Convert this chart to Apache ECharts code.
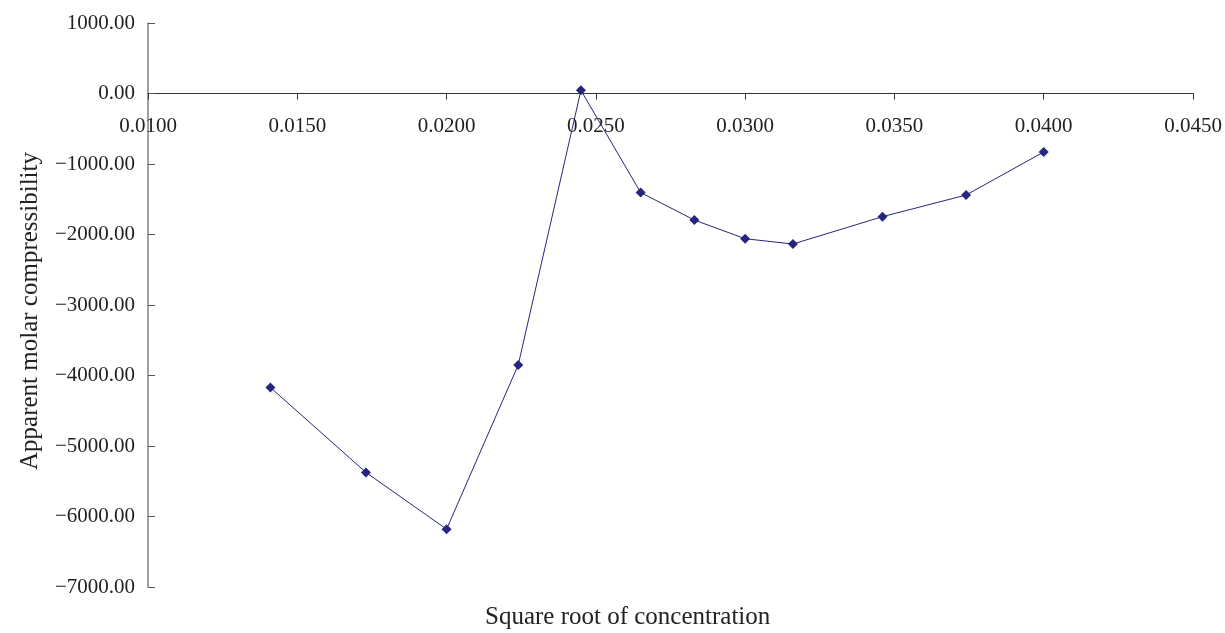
<!DOCTYPE html>
<html>
<head>
<meta charset="utf-8">
<title>Apparent molar compressibility</title>
<script src="https://cdn.jsdelivr.net/npm/echarts@6/dist/echarts.min.js"></script>
<style>
  html, body { margin: 0; padding: 0; background: #ffffff; }
  #chart { width: 1225px; height: 633px; }
</style>
</head>
<body>
<div id="chart"></div>
<script>
// Square root of concentration (x) and apparent molar compressibility (y)
var sqrtConc = [0.0141, 0.0173, 0.0200, 0.0224, 0.0245, 0.0265, 0.0283, 0.0300, 0.0316, 0.0346, 0.0374, 0.0400];
var compressibility = [-4170, -5375, -6180, -3850, 45, -1405, -1795, -2060, -2135, -1747, -1440, -830];

var xTitle = 'Square root of concentration';
var yTitle = 'Apparent molar compressibility';

var yMin = -7000, yMax = 1000;

var points = sqrtConc.map(function (x, i) { return [x, compressibility[i]]; });

var serif = '"Liberation Serif", "DejaVu Serif", serif';
var navy = '#26267e';

var gridTop = 23, gridBottom = 46, chartH = 633;
var plotH = chartH - gridTop - gridBottom;
// shift the bottom x axis up so that it runs along y = 0, labels underneath
var zeroShift = -plotH * (0 - yMin) / (yMax - yMin);

var chart = echarts.init(document.getElementById('chart'), null, { renderer: 'canvas' });
chart.setOption({
  backgroundColor: '#ffffff',
  animation: false,
  grid: { left: 148, right: 32, top: gridTop, bottom: gridBottom },
  xAxis: {
    type: 'value',
    position: 'bottom',
    offset: zeroShift,
    min: 0.0100,
    max: 0.0450,
    interval: 0.005,
    axisLine: { onZero: false, lineStyle: { color: '#333333', width: 1.2 } },
    axisTick: { show: true, inside: false, length: 6, lineStyle: { color: '#333333', width: 1 } },
    axisLabel: {
      margin: 22,
      color: '#222222',
      fontFamily: serif,
      fontSize: 21,
      formatter: function (v) { return v.toFixed(4); }
    },
    splitLine: { show: false }
  },
  yAxis: {
    type: 'value',
    min: yMin,
    max: yMax,
    interval: 1000,
    axisLine: { show: true, lineStyle: { color: '#808080', width: 1.5 } },
    axisTick: { show: true, inside: true, length: 7, lineStyle: { color: '#555555', width: 1 } },
    axisLabel: {
      margin: 13,
      color: '#222222',
      fontFamily: serif,
      fontSize: 21,
      formatter: function (v) {
        var s = Math.abs(v).toFixed(2);
        return v < 0 ? '\u2212' + s : s;
      }
    },
    splitLine: { show: false }
  },
  graphic: [{
    type: 'text',
    left: 485,
    top: 605,
    style: {
      text: xTitle,
      fill: '#222222',
      font: '25px ' + serif
    }
  }, {
    type: 'text',
    x: 30,
    y: 311,
    rotation: Math.PI / 2,
    style: {
      text: yTitle,
      fill: '#222222',
      font: '25px ' + serif,
      align: 'center',
      verticalAlign: 'middle'
    }
  }],
  series: [{
    type: 'line',
    data: points,
    symbol: 'diamond',
    symbolSize: 10,
    lineStyle: { color: navy, width: 1 },
    itemStyle: { color: navy },
    emphasis: { disabled: true }
  }]
});
</script>
</body>
</html>
